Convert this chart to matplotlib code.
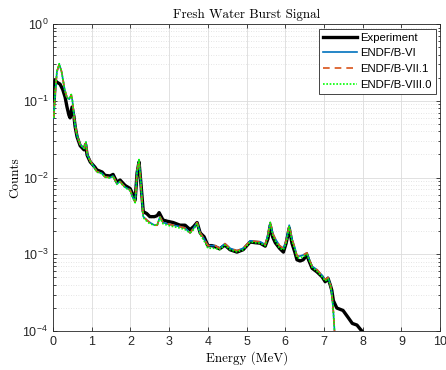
import numpy as np
import matplotlib
matplotlib.use("Agg")
import matplotlib.pyplot as plt
from matplotlib.ticker import LogLocator, FixedLocator, NullFormatter

# Fresh water burst signal: measured spectrum vs. three ENDF/B library simulations

# Experiment (energy in MeV, counts)
e_exp = [0.03, 0.05, 0.10, 0.18, 0.25, 0.31, 0.36, 0.41, 0.44, 0.49,
         0.54, 0.57, 0.62, 0.70, 0.80, 0.84, 0.88, 0.96, 1.08, 1.13,
         1.27, 1.34, 1.47, 1.55, 1.65, 1.73, 1.86, 1.99, 2.05, 2.12,
         2.17, 2.22, 2.26, 2.33, 2.42, 2.50, 2.62, 2.69, 2.74, 2.84,
         2.95, 3.10, 3.28, 3.41, 3.54, 3.63, 3.72, 3.80, 3.90, 4.00,
         4.10, 4.19, 4.30, 4.44, 4.57, 4.75, 4.91, 5.09, 5.22, 5.35,
         5.48, 5.55, 5.61, 5.67, 5.74, 5.85, 5.95, 6.02, 6.10, 6.17,
         6.25, 6.30, 6.38, 6.46, 6.56, 6.60, 6.69, 6.82, 6.95, 7.03,
         7.10, 7.16, 7.20, 7.24, 7.33, 7.49, 7.62, 7.73, 7.85, 7.93,
         7.98]
c_exp = [0.10, 0.185, 0.175, 0.165, 0.14, 0.112, 0.083, 0.065, 0.060, 0.083,
         0.062, 0.046, 0.034, 0.026, 0.023, 0.027, 0.0196, 0.016, 0.0137, 0.0126,
         0.0118, 0.0107, 0.0105, 0.011, 0.0087, 0.0093, 0.0079, 0.0072, 0.0062, 0.0051,
         0.0115, 0.016, 0.0095, 0.0036, 0.0034, 0.0031, 0.0031, 0.0032, 0.0035, 0.0028,
         0.0027, 0.0026, 0.0024, 0.0024, 0.0021, 0.0023, 0.0026, 0.0019, 0.0017, 0.0013,
         0.0013, 0.00126, 0.00118, 0.00132, 0.00115, 0.00107, 0.00115, 0.00145, 0.00142, 0.0014,
         0.00128, 0.0016, 0.0024, 0.0017, 0.00142, 0.0012, 0.00107, 0.0014, 0.0022, 0.0014,
         0.00105, 0.00085, 0.00082, 0.00085, 0.00098, 0.00085, 0.00066, 0.00059, 0.00051, 0.00044,
         0.00049, 0.00040, 0.00034, 0.00025, 0.00020, 0.000186, 0.000151, 0.000126, 0.00012, 0.000107,
         0.0001]

# Simulations (shared energy grid)
e_sim = [0.02, 0.05, 0.10, 0.16, 0.22, 0.30, 0.36, 0.42, 0.47, 0.50,
         0.54, 0.57, 0.62, 0.70, 0.80, 0.85, 0.88, 0.96, 1.05, 1.13,
         1.27, 1.34, 1.47, 1.55, 1.65, 1.73, 1.86, 1.99, 2.05, 2.12,
         2.17, 2.22, 2.26, 2.33, 2.42, 2.50, 2.62, 2.69, 2.76, 2.84,
         2.95, 3.10, 3.28, 3.41, 3.54, 3.63, 3.72, 3.80, 3.90, 4.00,
         4.10, 4.19, 4.30, 4.44, 4.57, 4.75, 4.91, 5.09, 5.22, 5.35,
         5.48, 5.55, 5.61, 5.67, 5.74, 5.85, 5.95, 6.02, 6.10, 6.17,
         6.25, 6.30, 6.38, 6.46, 6.56, 6.60, 6.69, 6.82, 6.95, 7.03,
         7.10, 7.16, 7.20, 7.24, 7.27, 7.30]
c_vi = [0.06, 0.12, 0.24, 0.30, 0.24, 0.14, 0.11, 0.105, 0.12, 0.10,
        0.065, 0.048, 0.035, 0.027, 0.024, 0.029, 0.020, 0.0165, 0.014, 0.012,
        0.0113, 0.0102, 0.0100, 0.0105, 0.0083, 0.0089, 0.0075, 0.0069, 0.0057, 0.0048,
        0.012, 0.017, 0.0095, 0.0031, 0.0028, 0.0026, 0.0024, 0.0024, 0.0031, 0.0026,
        0.0025, 0.0024, 0.0023, 0.0022, 0.0019, 0.0022, 0.0026, 0.0019, 0.0016, 0.0013,
        0.0013, 0.0013, 0.0012, 0.00138, 0.0012, 0.00112, 0.0012, 0.0015, 0.00148, 0.00146,
        0.00134, 0.0018, 0.0026, 0.0019, 0.0016, 0.0013, 0.0012, 0.0015, 0.0024, 0.0016,
        0.0012, 0.00095, 0.00095, 0.00098, 0.00105, 0.0009, 0.0007, 0.00063, 0.00053, 0.00047,
        0.00050, 0.00041, 0.00032, 0.00018, 0.0001, 0.00008]
c_vii1 = [0.06, 0.12, 0.24, 0.30, 0.24, 0.14, 0.11, 0.105, 0.119, 0.10,
          0.065, 0.048, 0.035, 0.027, 0.024, 0.029, 0.020, 0.0165, 0.014, 0.012,
          0.0113, 0.0102, 0.0100, 0.0105, 0.0083, 0.0089, 0.0075, 0.0069, 0.0057, 0.0048,
          0.012, 0.017, 0.0095, 0.0031, 0.0028, 0.0026, 0.0024, 0.0024, 0.0031, 0.0026,
          0.0025, 0.0024, 0.0023, 0.0022, 0.0019, 0.0022, 0.0026, 0.0019, 0.0016, 0.0013,
          0.0013, 0.0013, 0.0012, 0.00138, 0.0012, 0.00112, 0.0012, 0.0015, 0.00148, 0.00146,
          0.00134, 0.0018, 0.0026, 0.0019, 0.0016, 0.0013, 0.0012, 0.0015, 0.0024, 0.0016,
          0.0012, 0.00095, 0.00095, 0.00098, 0.00105, 0.0009, 0.0007, 0.00063, 0.00053, 0.00047,
          0.00050, 0.00041, 0.00032, 0.00018, 0.0001, 0.00008]
c_viii0 = [0.06, 0.12, 0.245, 0.305, 0.24, 0.14, 0.11, 0.105, 0.121, 0.10,
           0.065, 0.048, 0.035, 0.027, 0.024, 0.029, 0.020, 0.0163, 0.0138, 0.0118,
           0.0112, 0.0101, 0.0099, 0.0104, 0.0082, 0.0088, 0.0074, 0.0068, 0.0056, 0.0047,
           0.012, 0.0172, 0.0094, 0.0030, 0.0027, 0.0025, 0.0024, 0.0024, 0.0030, 0.0025,
           0.0024, 0.0023, 0.0022, 0.0021, 0.0019, 0.0021, 0.0025, 0.0018, 0.0015, 0.0012,
           0.0012, 0.0012, 0.00115, 0.00132, 0.00115, 0.00108, 0.00115, 0.00145, 0.00142, 0.0014,
           0.0013, 0.0017, 0.0026, 0.0018, 0.0015, 0.0012, 0.00115, 0.0014, 0.0023, 0.0015,
           0.00115, 0.0009, 0.0009, 0.00093, 0.001, 0.00088, 0.00068, 0.0006, 0.00051, 0.00045,
           0.00048, 0.0004, 0.00031, 0.00018, 0.0001, 0.00008]

plt.rcParams['mathtext.fontset'] = 'custom'
plt.rcParams['mathtext.rm'] = 'Liberation Sans'
plt.rcParams['font.family'] = 'Liberation Sans'

fig = plt.figure(figsize=(4.46, 3.70), dpi=100)
ax = fig.add_axes([0.119, 0.105, 0.868, 0.830])

ax.plot(e_exp, c_exp, color='black', lw=2.4, label='Experiment', zorder=3)
ax.plot(e_sim, c_vi, color=(0, 0.447, 0.741), lw=1.2, label='ENDF/B-VI', zorder=4)
ax.plot(e_sim, c_vii1, color=(0.85, 0.325, 0.098), lw=1.2, ls=(0, (4, 3)), label='ENDF/B-VII.1', zorder=5)
ax.plot(e_sim, c_viii0, color=(0, 1, 0), lw=1.2, ls=(0, (1, 1)), label='ENDF/B-VIII.0', zorder=6)

ax.set_yscale('log')
ax.set_xlim(0, 10)
ax.set_ylim(1e-4, 1)
ax.set_xticks(range(0, 11))
ax.yaxis.set_major_locator(FixedLocator([1e-4, 1e-3, 1e-2, 1e-1, 1]))
ax.yaxis.set_minor_locator(LogLocator(base=10, subs=np.arange(2, 10)))
ax.yaxis.set_minor_formatter(NullFormatter())
ax.set_yticklabels([r'$10^{-4}$', r'$10^{-3}$', r'$10^{-2}$', r'$10^{-1}$', r'$10^{0}$'])

ax.grid(True, which='major', color='#dcdcdc', lw=0.6)
ax.grid(True, which='minor', axis='y', color='#dcdcdc', lw=0.6, ls=(0, (1, 2)))
ax.set_axisbelow(True)
ax.tick_params(which='both', direction='in', top=True, right=True, labelsize=9,
               colors='#262626', width=0.6)
ax.tick_params(which='major', length=3)
ax.tick_params(which='minor', length=1.8)
for s in ax.spines.values():
    s.set_color('#262626')
    s.set_linewidth(0.6)

ax.set_title('Fresh Water Burst Signal', fontfamily='cmr10', fontsize=9.4, pad=4)
ax.set_xlabel('Energy (MeV)', fontfamily='cmr10', fontsize=9.4, labelpad=2)
ax.set_ylabel('Counts', fontfamily='cmr10', fontsize=9.4, labelpad=1)

leg = ax.legend(loc='upper right', fontsize=8.2, handlelength=3.0, handletextpad=0.25,
                borderpad=0.35, labelspacing=0.5, fancybox=False, framealpha=1,
                borderaxespad=0.4)
leg.get_frame().set_edgecolor('#262626')
leg.get_frame().set_linewidth(0.6)

fig.savefig('out.png', dpi=100)
